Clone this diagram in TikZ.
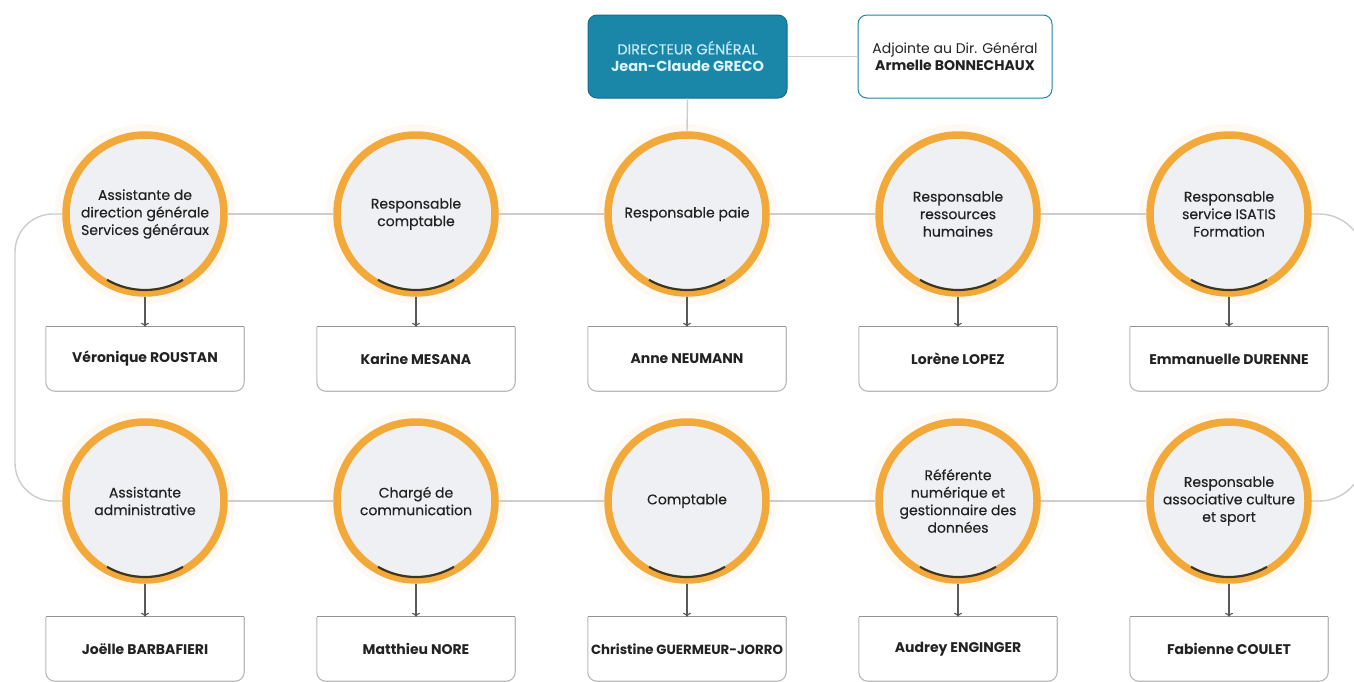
\documentclass[tikz,border=0pt]{standalone}
\usepackage{fontspec}
\setmainfont{Poppins}
\usetikzlibrary{arrows.meta}
\definecolor{ringc}{HTML}{F3A93A}
\definecolor{discc}{HTML}{EFF0F4}
\definecolor{arcc}{HTML}{3B3522}
\definecolor{linec}{HTML}{CDCDCD}
\definecolor{boxc}{HTML}{B9B9B9}
\definecolor{teal}{HTML}{1A86A8}
\definecolor{tealdark}{HTML}{136E8B}
\definecolor{tealtxt}{HTML}{C4ECF8}
\definecolor{txt}{HTML}{222222}
\begin{document}
\begin{tikzpicture}[x=1pt,y=-1pt,
  role/.style={circle,draw=ringc,line width=7.5pt,fill=discc,minimum size=158pt,inner sep=0pt,
    align=center,text=txt,font=\fontsize{14}{17.5}\selectfont\addfontfeature{FakeBold=0.3}},
  namebox/.style={rectangle,minimum width=198pt,minimum height=64pt,inner sep=0pt,
    text=txt,font=\fontsize{14}{16}\selectfont\bfseries},
  boxline/.style={draw=boxc,line width=1.1pt,rounded corners=9pt},
  conn/.style={draw=linec,line width=1.4pt},
  downarrow/.style={draw=black!65,line width=1.1pt,-{To[length=4pt,width=8pt]}},
  arcmark/.style={draw=arcc,line width=2.2pt},
  glow/.style={fill=ringc!6,draw=none}]
\clip (0,0) rectangle (1354,681);
\fill[white] (0,0) rectangle (1354,681);

% halos
\foreach \x in {145,416,687,958,1229}{
  \fill[glow] (\x,214) circle[radius=90pt];
  \fill[glow] (\x,501) circle[radius=90pt];
}

% anchor coordinates for the loops
\coordinate (LT) at (15,214);
\coordinate (LB) at (15,501);
\coordinate (RT) at (1364,214);
\coordinate (RB) at (1364,501);

% top boxes
\node[draw=tealdark,fill=teal,rounded corners=9pt,line width=1pt,minimum width=199pt,minimum height=83pt,
  align=center,font=\fontsize{14.5}{17.5}\selectfont] (dg) at (687.5,56.5)
  {\color{tealtxt}\addfontfeature{FakeBold=0.6}DIRECTEUR GÉNÉRAL\\ \color{tealtxt!60!white}\bfseries Jean-Claude GRECO};
\node[draw=teal,fill=white,rounded corners=9pt,line width=1pt,minimum width=194pt,minimum height=83pt,
  align=center,text=txt,font=\fontsize{14}{17.5}\selectfont] (adj) at (955,56.5)
  {Adjointe au Dir. Général\\ \bfseries Armelle BONNECHAUX};

% circles
\node[role] (c1) at (145,214) {Assistante de\\direction générale\\Services généraux};
\node[role] (c2) at (416,214) {Responsable\\comptable};
\node[role] (c3) at (687,214) {Responsable paie};
\node[role] (c4) at (958,214) {Responsable\\ressources\\humaines};
\node[role] (c5) at (1229,214) {Responsable\\service ISATIS\\Formation};
\node[role] (c6) at (145,501) {Assistante\\administrative};
\node[role] (c7) at (416,501) {Chargé de\\communication};
\node[role] (c8) at (687,501) {Comptable};
\node[role] (c9) at (958,501) {Référente\\numérique et\\gestionnaire des\\données};
\node[role] (c10) at (1229,501) {Responsable\\associative culture\\et sport};

% connectors between circles (drawn on the gaps)
\path[conn] (c1.east) -- (c2.west);
\path[conn] (c2.east) -- (c3.west);
\path[conn] (c3.east) -- (c4.west);
\path[conn] (c4.east) -- (c5.west);
\path[conn] (c6.east) -- (c7.west);
\path[conn] (c7.east) -- (c8.west);
\path[conn] (c8.east) -- (c9.west);
\path[conn] (c9.east) -- (c10.west);
\path[conn,rounded corners=38pt] (c1.west) -- (LT) -- (LB) -- (c6.west);
\path[conn,rounded corners=45pt] (c5.east) -- (RT) -- (RB) -- (c10.east);
\path[conn] (dg.south) -- (c3.north);
\path[conn] (dg.east) -- (adj.west);

% dark arcs at the bottom of the circles
\foreach \c in {c1,c2,c3,c4,c5,c6,c7,c8,c9,c10}{
  \draw[arcmark] (\c.center) ++(-120:76pt) arc[start angle=-120,end angle=-60,radius=76pt];
}

% name boxes
\node[namebox] (b1) at (145,359) {Véronique ROUSTAN};
\node[namebox] (b2) at (416,359) {Karine MESANA};
\node[namebox] (b3) at (687,359) {Anne NEUMANN};
\node[namebox] (b4) at (958,359) {Lorène LOPEZ};
\node[namebox] (b5) at (1229,359) {Emmanuelle DURENNE};
\node[namebox] (b6) at (145,649) {Joëlle BARBAFIERI};
\node[namebox] (b7) at (416,649) {Matthieu NORE};
\node[namebox,font=\fontsize{13.3}{16}\selectfont\bfseries] (b8) at (687,649) {Christine GUERMEUR-JORRO};
\node[namebox] (b9) at (958,649) {Audrey ENGINGER};
\node[namebox] (b10) at (1229,649) {Fabienne COULET};
\foreach \b in {b1,b2,b3,b4,b5,b6,b7,b8,b9,b10}{
  \path[boxline] (\b.north west) -- (\b.south west) -- (\b.south east) -- (\b.north east);
  \draw[draw=boxc!80!black,line width=1.3pt] (\b.north west) -- (\b.north east);
}

% arrows from roles to people
\foreach \i in {1,...,10}{
  \path[downarrow] (c\i.south) -- (b\i.north);
}
\end{tikzpicture}
\end{document}
